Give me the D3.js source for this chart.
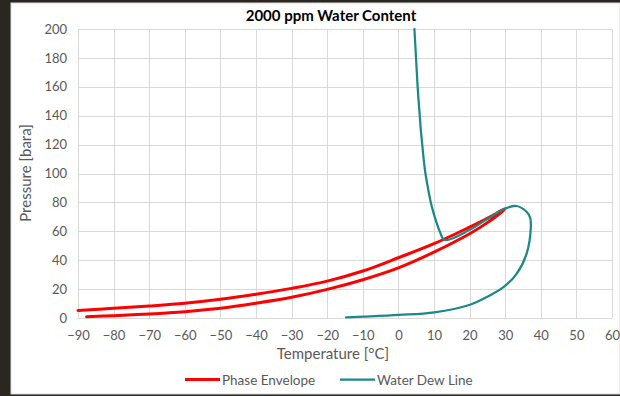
<!DOCTYPE html>
<html>
<head>
<meta charset="utf-8">
<script src="https://cdn.jsdelivr.net/npm/d3@7"></script>
<style>
  html, body { margin: 0; padding: 0; background: #ffffff; }
  svg { display: block; }
  text { font-family: Lato, "Open Sans", sans-serif; }
</style>
</head>
<body>
<svg id="chart" width="620" height="396"></svg>
<script>
// Phase envelope: upper (dew) branch and lower (bubble) branch, meeting near the cricondenbar
const envUpperTemp = [-90, -80, -70, -60, -50, -40, -30, -20, -10, 0, 10, 20, 25, 30];
const envUpperPres = [5.2, 6.7, 8.3, 10.2, 12.9, 16.4, 20.5, 25.5, 32.5, 41.7, 51.4, 62.9, 69.0, 75.5];
const envLowerTemp = [-87.6, -80, -70, -60, -50, -40, -30, -20, -10, 0, 10, 20, 25, 30];
const envLowerPres = [0.9, 1.6, 2.8, 4.4, 6.7, 10.2, 14.3, 19.8, 26.5, 34.7, 45.6, 58.3, 66.0, 75.5];

// Water dew line for 2000 ppm water
const dewTemp = [4.5, 4.95, 5.4, 6.0, 6.3, 6.7, 7.1, 7.6, 8.3, 9.1, 10.2, 11.6, 13.0, 20, 25, 30, 33.2, 36, 37, 37.2, 36, 33.2, 29.5, 24.7, 20.1, 10.1, 0.2, -9.9, -14.7];
const dewPres = [200, 180, 160, 140, 130, 120, 110, 100, 90, 80, 70, 60, 54.0, 61, 68.5, 75.8, 77.5, 73.5, 69.5, 63, 44.4, 30.6, 21.3, 14.3, 9.2, 3.9, 2.1, 0.9, 0.4];

const xTicks = [-90, -80, -70, -60, -50, -40, -30, -20, -10, 0, 10, 20, 30, 40, 50, 60];
const yTicks = [0, 20, 40, 60, 80, 100, 120, 140, 160, 180, 200];

const seriesNames = ["Phase Envelope", "Water Dew Line"];
const seriesColors = ["#ff0000", "#1b8a87"];

const svg = d3.select("#chart");

// frame
svg.append("rect").attr("x", 0).attr("y", 0).attr("width", 620).attr("height", 396).attr("fill", "#2a2620");
svg.append("rect").attr("x", 11).attr("y", 3).attr("width", 609).attr("height", 391)
  .attr("fill", "#ffffff").attr("stroke", "#d9d9d9").attr("stroke-width", 1);

const plot = { left: 78, right: 612, top: 29, bottom: 318 };

const x = d3.scaleLinear().domain([-90, 60]).range([plot.left, plot.right]);
const y = d3.scaleLinear().domain([0, 200]).range([plot.bottom, plot.top]);

// gridlines
const grid = svg.append("g");
grid.selectAll("line.v").data(xTicks).join("line")
  .attr("x1", d => Math.round(x(d)) + 0.5).attr("x2", d => Math.round(x(d)) + 0.5)
  .attr("y1", plot.top).attr("y2", plot.bottom)
  .attr("stroke", "#d9d9d9").attr("stroke-width", 1);
grid.selectAll("line.h").data(yTicks).join("line")
  .attr("x1", plot.left).attr("x2", plot.right)
  .attr("y1", d => Math.round(y(d)) + 0.5).attr("y2", d => Math.round(y(d)) + 0.5)
  .attr("stroke", "#d9d9d9").attr("stroke-width", 1);

// axes (labels only, grid carries the lines)
const xAxis = svg.append("g").attr("transform", `translate(0,${plot.bottom})`)
  .call(d3.axisBottom(x).tickValues(xTicks).tickSize(0).tickPadding(13));
const yAxis = svg.append("g").attr("transform", `translate(${plot.left},0)`)
  .call(d3.axisLeft(y).tickValues(yTicks).tickSize(0).tickPadding(11));
[xAxis, yAxis].forEach(a => {
  a.select(".domain").remove();
  a.selectAll("text").attr("fill", "#595959").style("font-size", "13px")
    .style("font-family", "Lato, 'Open Sans', sans-serif");
});

// series
const line = d3.line().x(d => x(d[0])).y(d => y(d[1])).curve(d3.curveCatmullRom.alpha(0.5));

const upper = envUpperTemp.map((t, i) => [t, envUpperPres[i]]);
const lower = envLowerTemp.map((t, i) => [t, envLowerPres[i]]);
const envelope = upper.concat(lower.slice(0, -1).reverse());
svg.append("path").attr("d", line(envelope))
  .attr("fill", "none").attr("stroke", seriesColors[0]).attr("stroke-width", 3)
  .attr("stroke-linejoin", "round").attr("stroke-linecap", "round");

const dew = dewTemp.map((t, i) => [t, dewPres[i]]);
svg.append("path").attr("d", line(dew))
  .attr("fill", "none").attr("stroke", seriesColors[1]).attr("stroke-width", 2.25)
  .attr("stroke-linejoin", "round").attr("stroke-linecap", "round");

// title
svg.append("text").attr("x", 331).attr("y", 21).attr("text-anchor", "middle")
  .attr("fill", "#000000").style("font-size", "15px").style("font-weight", "bold")
  .text("2000 ppm Water Content");

// axis titles
svg.append("text").attr("x", 333).attr("y", 359).attr("text-anchor", "middle")
  .attr("fill", "#595959").style("font-size", "15px").text("Temperature [°C]");
svg.append("text").attr("transform", "translate(31,173) rotate(-90)").attr("text-anchor", "middle")
  .attr("fill", "#595959").style("font-size", "15px").text("Pressure [bara]");

// legend
const legendX = [185, 340];
const legend = svg.append("g");
seriesNames.forEach((name, i) => {
  legend.append("line").attr("x1", legendX[i]).attr("x2", legendX[i] + 35)
    .attr("y1", 379.5).attr("y2", 379.5)
    .attr("stroke", seriesColors[i]).attr("stroke-width", i === 0 ? 3 : 2.25);
  legend.append("text").attr("x", legendX[i] + 37).attr("y", 384.5)
    .attr("fill", "#595959").style("font-size", "13.5px").text(name);
});
</script>
</body>
</html>
